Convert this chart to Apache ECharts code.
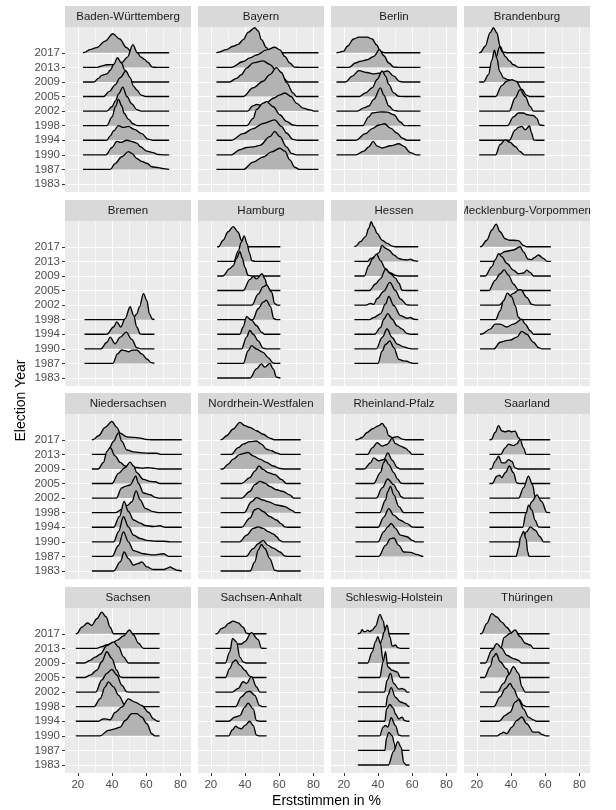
<!DOCTYPE html>
<html>
<head>
<meta charset="utf-8">
<script src="https://cdn.jsdelivr.net/npm/echarts@6/dist/echarts.min.js"></script>
<style>
  html, body { margin: 0; padding: 0; background: #fff; }
  #chart { width: 616px; height: 810px; }
</style>
</head>
<body>
<div id="chart"></div>
<script>
// election years, bottom to top
const years = ['1983', '1987', '1990', '1994', '1998', '2002', '2005', '2009', '2013', '2017']
const xTicks = [20, 40, 60, 80]
const xMinorTicks = [30, 50, 70]

const states = [
  'Baden-Württemberg', 'Bayern', 'Berlin', 'Brandenburg',
  'Bremen', 'Hamburg', 'Hessen', 'Mecklenburg-Vorpommern',
  'Niedersachsen', 'Nordrhein-Westfalen', 'Rheinland-Pfalz', 'Saarland',
  'Sachsen', 'Sachsen-Anhalt', 'Schleswig-Holstein', 'Thüringen'
]
// range of the density lines per state (Erststimmen in %)
const xRanges = [
  [23, 73.4], [23.3, 83], [15.7, 64.8], [21.4, 59.6],
  [23.9, 64.8], [23.7, 60.7], [26.2, 63.5], [21.9, 63.3],
  [28.2, 80.8], [25.7, 72.6], [26.8, 66.8], [27.4, 62.9],
  [18.8, 67.8], [22.7, 52.6], [28.2, 58.4], [21.9, 62.5]
]

// ridge outlines: [x in %, height in rows]
const bw = {
  '2017': [[24.5,0.05],[27,0.22],[31,0.35],[36,0.8],[40.5,1.31],[44.5,0.95],[48.5,0.35],[51.5,0.05],[55,0]],
  '2013': [[31,0],[33.5,0.08],[37,0.18],[42,0.2],[46,0.35],[49,0.7],[52.2,1.56],[54.8,1.0],[57,0.7],[59,0.55],[61,0.35],[63.5,0.02],[66,0]],
  '2009': [[29.5,0],[32,0.25],[34,0.45],[37,0.55],[39,0.8],[41,1.2],[43.2,1.66],[45.5,1.3],[47.5,0.8],[50,0.2],[52,0]],
  '2005': [[35,0],[38.5,0.35],[41.8,0.8],[44.8,1.3],[48.1,1.75],[50.6,1.3],[52.6,0.7],[54.5,0.45],[57,0.1],[60,0]],
  '2002': [[37,0],[40,0.3],[42,0.7],[44,1.2],[46.3,1.65],[48.7,1.0],[51.6,0.5],[54.5,0.1],[57,0]],
  '1998': [[37,0],[40,0.6],[42,1.3],[43.8,1.8],[45.7,1.35],[47.1,0.85],[49.6,0.45],[52.2,0.13],[55,0]],
  '1994': [[37,0],[39,0.3],[41,0.65],[43.8,1.0],[46.7,0.88],[49.6,0.95],[53,0.75],[57.4,0.45],[61,0.08],[64,0]],
  '1990': [[36.5,0],[40,0.5],[42.8,0.92],[45,0.85],[48.7,1.0],[52,0.9],[54.5,0.8],[56.5,0.57],[60.4,0.25],[64,0.15],[67,0.02],[70,0]],
  '1987': [[39,0],[41.8,0.4],[45.7,0.87],[49.6,1.22],[51.6,1.1],[54.5,0.75],[57.4,0.55],[60.4,0.42],[63.3,0.18],[67.2,0.12],[70,0.05]]
}
const by = {
  '2017': [[24.5,0.05],[29,0.22],[33,0.45],[36,0.58],[39,0.9],[41.8,1.4],[45.7,1.72],[47.7,1.5],[49.6,0.9],[52.6,0.35],[55,0]],
  '2013': [[32,0],[38.9,0.4],[42.8,0.65],[46.7,0.85],[52.6,1.2],[57.4,1.38],[60.4,1.2],[63.3,0.75],[66.2,0.3],[69,0.02],[72,0]],
  '2009': [[31,0],[35,0.25],[37.9,0.5],[40.9,0.95],[44.8,1.31],[50.6,1.45],[54.5,1.2],[58.4,0.75],[62.3,0.28],[65.2,0]],
  '2005': [[39,0],[44.8,0.6],[50.6,1.05],[54.5,1.5],[58.4,1.98],[61.3,1.65],[64.3,0.95],[68.1,0.25],[70,0]],
  '2002': [[41.5,0],[44.5,0.35],[46.7,0.45],[49.6,0.4],[52.6,0.6],[57,0.9],[60,1.1],[63.3,1.24],[67,1.0],[70,0.55],[74,0.2],[78,0.08],[81,0]],
  '1998': [[41,0],[44.8,0.5],[46.7,1.1],[50.6,1.55],[52.6,1.65],[56.5,1.3],[60.4,0.75],[64.3,0.3],[68,0.05],[71,0]],
  '1994': [[32,0],[38.9,0.45],[44.8,0.8],[50.6,1.15],[57.4,1.4],[61.3,0.95],[64.3,0.5],[68,0.06],[71,0]],
  '1990': [[32,0],[37,0.35],[41,0.5],[45,0.55],[48.7,0.65],[54.5,1.25],[57.4,1.6],[60.4,1.25],[64.3,0.55],[67.2,0.1],[70,0]],
  '1987': [[39,0],[44.8,0.5],[50.6,0.85],[55.5,1.2],[60.4,1.45],[63.3,1.25],[66.2,0.65],[69,0.15],[72,0]]
}
const be = {
  '2017': [[16.5,0.02],[20,0.12],[22,0.45],[25.8,0.95],[28.8,1.08],[33.6,1.08],[36.6,0.95],[39.1,0.55],[41.4,0.1],[44,0]],
  '2013': [[23,0],[26.8,0.3],[29.7,0.42],[33.6,0.52],[37.5,0.75],[40.9,1.22],[43.4,0.8],[46.3,0.3],[49.2,0.02],[52,0]],
  '2009': [[21,0],[24.9,0.4],[28.8,0.78],[33.6,0.65],[37,0.55],[40.5,0.6],[45.7,0.75],[49.2,0.4],[52.7,0.03],[55,0]],
  '2005': [[29,0],[32.7,0.25],[36.6,0.6],[39.5,1.17],[42.4,1.75],[44.4,1.4],[46.3,0.83],[49.2,0.25],[52,0.02],[55,0]],
  '2002': [[28,0],[31.7,0.22],[34.6,0.35],[37.5,0.8],[41.4,1.59],[43.4,1.1],[46.3,0.35],[49.2,0.05],[52,0]],
  '1998': [[31,0],[34.6,0.6],[36.6,0.87],[41.4,0.95],[45.3,0.93],[49.2,0.75],[53.1,0.25],[55.5,0]],
  '1994': [[27,0],[32.7,0.45],[36.6,0.8],[40.5,1.05],[43.8,1.13],[47.3,0.83],[51.2,0.48],[54.1,0.15],[57,0]],
  '1990': [[27,0],[31.7,0.25],[34.6,0.55],[37.2,0.92],[39.5,0.6],[42.4,0.47],[47.3,0.62],[52.2,0.76],[55.1,0.58],[59,0.15],[62.5,0]]
}
const bb = {
  '2017': [[22,0.02],[24.9,0.45],[27.8,1.38],[29.7,1.72],[31.7,1.38],[33.6,0.45],[35.6,0.04],[38,0]],
  '2013': [[29,0],[31,0.6],[33.3,1.4],[35,1.05],[36.6,0.75],[39,0.45],[41.4,0.18],[44.4,0]],
  '2009': [[24,0],[26.8,0.5],[28.8,1.5],[30.3,2.18],[31.8,1.6],[33.3,0.73],[35.6,0.28],[38.5,0.15],[40.5,0]],
  '2005': [[31,0],[34.6,0.75],[37.5,1.05],[40.5,1.15],[43,1.05],[46.3,0.5],[49,0.1],[51,0]],
  '2002': [[39,0],[42.4,0.9],[45.3,1.47],[48.3,1.0],[51.2,0.32],[53.1,0]],
  '1998': [[38,0],[41.4,0.6],[44.4,0.87],[47.3,0.87],[49.2,0.77],[51,0.72],[53.1,0.7],[55.1,0.5],[56.8,0.05]],
  '1994': [[39,0],[42.4,0.7],[44.5,0.9],[46.3,0.95],[48.3,0.72],[50.8,0.98],[52,0.5],[53.3,0.02],[55,0]],
  '1990': [[31,0],[33.6,0.7],[36.6,1.03],[39.5,0.85],[42.4,0.57],[45.3,0.23],[47.7,0]]
}
const hb = {
  '1998': [[50,0],[53,0.2],[54.5,0.4],[56.1,0.9],[58.4,1.79],[60.4,1.3],[61.9,0.4],[63.5,0.05]],
  '1994': [[37,0],[40.9,0.5],[42.8,0.85],[45.1,0.5],[47.7,1.07],[50.6,1.89],[52.6,1.3],[54.5,0.5],[56.5,0.02],[58,0]],
  '1990': [[33.5,0],[37,0.45],[38.9,0.8],[41.8,0.35],[44.8,0.8],[48.3,1.15],[51.6,0.65],[54.5,0.08],[57,0]],
  '1987': [[40.5,0],[43.2,0.65],[45.7,0.92],[47.7,0.88],[49.6,0.8],[51.6,0.9],[54.5,0.92],[57.4,0.65],[60.4,0.3],[63,0.05]]
}
const hh = {
  '2017': [[24.5,0],[27.2,0.45],[30.1,1.03],[33.1,1.38],[36,1.0],[37.9,0.45],[40,0]],
  '2013': [[33.5,0],[36,0.7],[37.8,1.3],[39.5,1.75],[41.3,1.2],[42.5,0.6],[44,0.05],[46,0]],
  '2009': [[27,0],[31.1,0.5],[33.1,0.7],[35,1.2],[37,1.66],[38.5,1.2],[39.9,0.6],[41.8,0.05],[44,0]],
  '2005': [[39,0],[42.8,0.75],[44.8,0.95],[46.7,0.8],[50,1.15],[51.6,0.8],[53,0.3],[54.5,0.02],[57,0]],
  '2002': [[44,0],[47.7,0.75],[50.6,1.25],[52.6,1.38],[55.5,0.9],[57.4,0.1],[59,0]],
  '1998': [[44.5,0],[47.7,0.75],[50.6,1.2],[52.6,1.33],[54.9,0.9],[56.8,0.08],[58.5,0]],
  '1994': [[37,0],[38.9,0.5],[40.9,1.2],[43.8,0.97],[46.7,0.6],[49.6,0.15],[51.6,0]],
  '1990': [[38,0],[40.9,0.8],[42.8,1.26],[44.8,1.0],[47.7,0.55],[50.6,0.05],[52,0]],
  '1987': [[39,0],[41.8,0.87],[43.8,1.22],[46.7,0.99],[50.6,0.76],[53.5,0.4],[56.5,0.02],[58,0]],
  '1983': [[43,0],[46.7,0.62],[49.6,0.97],[51.6,0.74],[54.5,1.0],[56.5,0.62],[58.4,0.05]]
}
const he = {
  '2017': [[27,0.05],[29.7,0.35],[32.7,0.7],[34.6,1.27],[36,1.72],[37.5,1.38],[39.5,0.92],[42.4,0.45],[45.3,0.23],[48.3,0.05],[50,0]],
  '2013': [[34,0],[35.6,0.2],[38,0.3],[40.5,0.6],[42.4,1.1],[44.4,0.9],[46.3,0.78],[49.2,0.45],[52.2,0.2],[55,0.12],[57,0.1],[59,0.15],[61,0.05]],
  '2009': [[32,0],[34.6,0.7],[36.6,1.15],[39.1,1.5],[41.4,1.05],[44.4,0.5],[47.3,0.2],[50,0.05],[52,0]],
  '2005': [[35,0],[38.5,0.45],[41.4,0.8],[44.4,1.45],[47.3,1.15],[50.2,0.85],[52.2,0.5],[54.1,0.02],[56,0]],
  '2002': [[33,0],[35.6,0.12],[37.5,0.05],[39.5,0.45],[43.4,0.95],[46.9,1.56],[50.2,1.0],[53.1,0.42],[57,0.02],[59,0]],
  '1998': [[35,0],[37.5,0.15],[41.4,0.4],[44.4,1.08],[46.3,1.59],[49.2,0.97],[53.1,0.28],[57,0.1],[59,0.15],[61,0.03]],
  '1994': [[38,0],[41.4,0.45],[43.4,1.03],[45.7,1.42],[48.3,1.03],[51.2,0.57],[54.1,0.35],[57,0.05],[59,0]],
  '1990': [[39,0],[42.4,0.78],[45.3,1.36],[48.3,0.78],[51.2,0.32],[55.1,0.13],[58,0.03],[60,0]],
  '1987': [[40,0],[42.4,0.85],[44.4,1.3],[46.9,1.54],[49.2,1.08],[52.2,0.28],[55,0.17],[57,0.15],[59,0.05],[61,0]]
}
const mv = {
  '2017': [[22.5,0.02],[25.8,0.45],[28.8,1.15],[31.3,1.56],[33.6,1.03],[36.6,0.55],[39,0.45],[41.4,0.45],[44.4,0.42],[47.3,0.1],[49,0]],
  '2013': [[30,0],[33.6,0.5],[36.6,0.68],[41.4,0.78],[45.3,1.0],[47.3,0.65],[50,0.15],[52,0.12],[53.5,0.25],[56.1,0.44],[59,0.2],[61,0]],
  '2009': [[25,0],[28.8,0.64],[30.7,1.1],[32.7,1.52],[34.6,1.33],[37.5,0.87],[41.4,0.4],[44.4,0.15],[47.3,0.2],[49.2,0.4],[51.2,0.25],[53.1,0]],
  '2005': [[27,0],[30.7,0.7],[33.6,1.15],[36,1.42],[38.5,1.05],[41.4,0.45],[44.4,0.04],[46,0]],
  '2002': [[33,0],[37,0.4],[41.4,0.8],[44.4,1.03],[45.7,1.05],[49.2,0.53],[52.2,0.05],[54,0]],
  '1998': [[31,0],[33.6,0.6],[35.6,1.3],[37.9,1.82],[40.5,1.55],[42.4,0.97],[44.4,0.15],[46,0]],
  '1994': [[23,0.02],[27.8,0.35],[30.7,0.7],[33.6,0.7],[37.5,0.5],[41.4,0.7],[46.3,1.03],[48.3,0.7],[51.2,0.25],[53.1,0]],
  '1990': [[30,0],[33.6,0.45],[36.6,0.55],[39.5,0.6],[43.4,0.8],[46.3,1.2],[49.2,1.0],[53.1,0.45],[56.1,0.08],[58,0]]
}
const ni = {
  '2017': [[29,0.02],[32.1,0.28],[36,0.85],[39.9,1.26],[42.8,0.85],[44.8,0.45],[48.7,0.2],[52.6,0.17],[56.5,0.12],[60.4,0.02],[63,0]],
  '2013': [[37,0],[40.9,0.9],[43.8,1.47],[45.7,0.9],[48.7,0.3],[52.6,0.17],[58.4,0.1],[62,0.08],[66.2,0.08],[69,0]],
  '2009': [[32,0],[35,0.45],[37,1.2],[38.9,1.47],[41.8,0.9],[44.8,0.45],[47.7,0.2],[52,0.1],[54.5,0.1],[58,0.05],[60.4,0.09],[64.2,0.05],[67,0]],
  '2005': [[40,0],[43.8,0.7],[47.7,1.1],[50.6,1.47],[52.6,1.2],[54.5,0.75],[58.4,0.28],[62.3,0.15],[65.2,0.12],[68,0]],
  '2002': [[42.5,0],[45.7,0.7],[47.7,0.8],[50.6,0.9],[53.9,1.5],[55.5,1.0],[58.4,0.35],[62.3,0.23],[65.2,0.05],[67,0]],
  '1998': [[42,0],[46.7,0.3],[49,0.5],[51.6,0.75],[54.1,1.5],[56.5,0.88],[59.4,0.3],[64.2,0.07],[67,0]],
  '1994': [[41,0],[44.4,0.75],[47.1,1.77],[49.6,1.08],[52.6,0.5],[56.5,0.28],[59.4,0.12],[64.2,0.05],[68.1,0.1],[71,0]],
  '1990': [[41,0],[43.8,0.7],[46.7,1.72],[49.6,1.03],[52.6,0.45],[56.5,0.23],[60.4,0.1],[66,0.04],[70,0.04],[74,0]],
  '1987': [[40,0],[43.8,0.75],[46.7,1.68],[49.6,1.0],[52.6,0.4],[58.4,0.18],[64.2,0.1],[70.1,0.18],[73,0]],
  '1983': [[41,0],[44.8,0.62],[47.1,1.3],[49.6,0.85],[52.6,0.4],[55,0.5],[57.4,0.62],[60.4,0.28],[64.2,0.1],[70.1,0.1],[72.5,0.2],[74,0.28],[76,0.15],[78,0.05]]
}
const nw = {
  '2017': [[26.5,0.03],[29.2,0.28],[33.1,0.74],[37,1.2],[39.9,0.97],[42.8,0.85],[46.7,0.62],[50.6,0.38],[54.5,0.12],[57,0]],
  '2013': [[32,0],[36,0.46],[38.9,0.7],[42.8,0.87],[46.7,0.92],[49.6,0.7],[52.6,0.35],[55.5,0.25],[58.4,0.1],[61,0]],
  '2009': [[27,0],[30.1,0.32],[33.1,0.67],[37,1.0],[41.8,1.13],[44.8,0.9],[48.7,0.67],[52.6,0.45],[56.5,0.2],[60.4,0.03],[63,0]],
  '2005': [[38,0],[42.8,0.4],[45.7,0.85],[48.1,1.2],[50.6,0.97],[53.5,0.75],[57.4,0.62],[61.3,0.28],[64.2,0]],
  '2002': [[38,0],[42.8,0.45],[45.7,0.92],[48.7,1.15],[51.6,1.03],[54.5,0.8],[58.4,0.57],[62.3,0.45],[66.2,0.22],[68.5,0]],
  '1998': [[39.5,0],[43.8,0.75],[46.7,1.03],[50.6,0.87],[53.5,0.76],[58.4,0.53],[63.3,0.42],[67.2,0.18],[69.5,0]],
  '1994': [[38,0],[42.8,0.62],[45.7,1.2],[47.7,1.3],[50.6,1.08],[54.5,0.74],[58.4,0.5],[61,0.25],[63.3,0.03],[65,0]],
  '1990': [[37,0],[40.9,0.46],[44.8,0.92],[47.7,1.03],[50.6,0.92],[53.5,0.7],[56.5,0.55],[58.5,0.35],[60.4,0.1],[62,0]],
  '1987': [[40.5,0],[44.8,0.53],[47.7,0.87],[50.6,1.1],[53.5,0.76],[56.5,0.57],[60.4,0.3],[63.5,0.02],[65,0]],
  '1983': [[43,0],[45.7,0.62],[47.7,1.42],[49.6,1.82],[51.6,1.54],[54.5,0.85],[57.4,0.05],[59,0]]
}
const rp = {
  '2017': [[28,0.02],[30.7,0.16],[33.6,0.5],[36.6,0.74],[40.5,0.97],[42.4,1.13],[44.4,0.85],[46.3,0.28],[48.5,0.15],[51.2,0.22],[54.1,0.05],[56,0]],
  '2013': [[34,0],[36.6,0.45],[39.5,0.8],[42.4,0.57],[45.3,0.68],[48.3,1.1],[50.2,0.74],[53.1,0.57],[56.1,0.42],[58,0.22],[60,0]],
  '2009': [[32,0],[35.6,0.42],[37.5,0.76],[40.5,0.55],[43.4,0.65],[45.7,1.1],[48.3,0.6],[51.2,0.1],[53,0]],
  '2005': [[37.5,0],[41.4,0.75],[43.4,1.45],[44.4,1.65],[46.3,1.3],[49.2,0.75],[51.5,0.3],[53.5,0.02],[55,0]],
  '2002': [[39,0],[42.4,0.7],[45.7,1.31],[49.2,0.92],[51.5,0.5],[53.5,0.1],[55,0]],
  '1998': [[41,0],[44.4,0.87],[45.7,1.45],[47.3,1.8],[49.2,1.22],[52.2,0.42],[55.1,0]],
  '1994': [[40,0],[43.4,0.7],[46.3,1.28],[49.2,0.83],[53.1,0.48],[57,0.25],[60,0.02],[62,0]],
  '1990': [[40,0],[43.4,0.7],[45.7,1.03],[47.7,1.26],[50.2,0.92],[53.1,0.46],[57,0.35],[60,0.1],[62,0]],
  '1987': [[40.5,0],[44.4,0.76],[47.3,1.22],[49.2,1.26],[52.2,0.76],[55.1,0.3],[59,0.28],[62.9,0.12],[66.5,0]]
}
const sl = {
  '2017': [[28.5,0.02],[30.7,0.5],[32.7,0.97],[34.6,0.62],[36.6,0.55],[38.5,0.62],[40.5,0.55],[42.4,0.6],[44.4,0.15],[45.5,0]],
  '2013': [[34,0],[36.6,0.45],[38.5,0.7],[41.4,0.6],[43.4,0.72],[45.3,1.03],[47.3,0.45],[48.8,0]],
  '2009': [[28.5,0],[30.7,0.52],[32.7,0.87],[34.6,0.42],[36.6,0.42],[38.5,0.64],[40.5,0.52],[42.4,0.07],[44,0]],
  '2005': [[29,0],[31.7,0.5],[33.3,0.57],[34.6,0.4],[36.6,0.74],[39.1,1.2],[41.4,0.74],[43.4,0.04],[45,0]],
  '2002': [[44.5,0],[47.3,0.7],[50.2,1.5],[52.6,0.92],[54.1,0.1],[55.5,0]],
  '1998': [[49.5,0],[52.2,0.75],[55.1,1.22],[58,0.75],[60.9,0.02]],
  '1994': [[46.8,0],[48.8,0.95],[50.2,1.52],[52.2,1.17],[54.1,0.48],[56.1,0.02],[58,0]],
  '1990': [[46,0],[49.2,0.7],[51.2,1.03],[54.1,0.8],[57,0.35],[59,0]],
  '1987': [[43,0],[44.5,0.6],[45.5,1.3],[47.3,1.72],[48.8,1.2],[49.8,0.3],[50.5,0]]
}
const sn = {
  '2017': [[19.5,0.02],[22.3,0.45],[25.7,0.74],[28.2,0.58],[31.1,1.03],[34,1.49],[36.6,1.15],[38.9,0.45],[40.9,0]],
  '2013': [[31,0],[34,0.12],[36.6,0.23],[39.9,0.3],[42.8,0.55],[46.7,0.85],[50.2,1.26],[52.6,0.92],[55.5,0.35],[58.4,0]],
  '2009': [[24,0],[27.2,0.18],[30.1,0.4],[33.1,0.6],[37,1.2],[40.9,1.45],[43.8,1.1],[46.7,0.42],[49.6,0]],
  '2005': [[24,0],[27.2,0.16],[31.1,0.5],[34,1.08],[37,1.77],[39.9,1.3],[42.8,0.5],[44.8,0.04],[46.5,0]],
  '2002': [[30.5,0],[34,0.83],[37,1.29],[39.9,1.56],[42.8,1.17],[45.7,0.48],[48.7,0.02],[50,0]],
  '1998': [[29.5,0],[33.1,0.55],[36,1.36],[37.9,1.7],[40.9,1.36],[43.8,0.78],[47.7,0.09],[49.5,0]],
  '1994': [[32,0],[34.5,0.15],[36,0.16],[38.9,0.1],[41.8,0.6],[45.7,0.97],[49.6,1.54],[53.5,1.31],[57.4,1.08],[61.3,0.62],[64.2,0.16],[66.5,0]],
  '1990': [[33,0],[37.9,0.37],[41.8,0.48],[44.8,0.6],[47.7,1.05],[51.6,1.52],[54.5,1.52],[57.4,1.29],[60.4,0.83],[63.3,0.14],[65,0]]
}
const st = {
  '2017': [[23.5,0],[26.2,0.35],[28.2,0.46],[30.1,0.7],[33.1,0.87],[36,0.75],[38.9,0.45],[40.9,0.04],[42.5,0]],
  '2013': [[33,0],[36,0.3],[37.9,0.3],[39.9,0.46],[43.8,1.08],[47.7,0.6],[49.6,0.02],[51,0]],
  '2009': [[28.5,0],[31.1,0.76],[32.7,1.68],[35,1.45],[37,0.4],[38.9,0.07],[40.5,0]],
  '2005': [[28.5,0],[31.1,0.62],[33.1,1.08],[34.6,1.2],[37,0.85],[39.9,0.5],[42.8,0.09],[44.5,0]],
  '2002': [[32.5,0],[36,0.25],[38.9,0.71],[40.9,0.6],[43.8,1.06],[46.7,0.37],[48.7,0]],
  '1998': [[34.5,0],[37.9,0.67],[40.9,1.0],[42.8,1.06],[45.7,0.78],[48.5,0.09],[50,0]],
  '1994': [[30.5,0],[34,0.28],[37,0.39],[39.9,0.97],[41.8,1.24],[44.8,0.85],[46.7,0.05],[48.5,0]],
  '1990': [[30.5,0],[32.5,0.4],[34.6,0.67],[36,0.55],[37.9,0.48],[40,0.72],[42.8,1.0],[44.8,0.7],[46.7,0.05],[48,0]]
}
const sh = {
  '2017': [[29.5,0.05],[30.7,0.28],[31.7,0.15],[32.7,0.15],[34,0.25],[35,0.15],[36.6,0.25],[38.5,0.5],[41.1,1.33],[43,0.9],[44.4,0.05],[46,0]],
  '2013': [[40.5,0],[42.3,0.6],[43.4,1.1],[45.3,1.6],[46.9,0.8],[48.3,0.15],[50.2,0.23],[51.6,0.05],[53,0]],
  '2009': [[34,0],[36.6,0.76],[38.5,1.45],[39.9,1.8],[41.4,1.33],[43,0.15],[44.5,0]],
  '2005': [[41,0],[43,1.08],[44.4,1.77],[45.7,0.74],[48.3,0.5],[51.2,0.39],[53.1,0]],
  '2002': [[43.8,0],[45.3,0.8],[47.3,1.29],[49.2,0.6],[52.2,0.2],[54,0.25],[55.5,0.18],[57,0]],
  '1998': [[44.5,0],[45.7,0.78],[47.7,1.31],[50.2,0.65],[53.1,0.32],[56.1,0.2],[57.5,0.05]],
  '1994': [[44,0],[45,0.85],[46.9,1.15],[49,0.9],[50.2,0.5],[52.2,0.15],[54.1,0.28],[55.5,0.05],[57,0]],
  '1990': [[41,0],[43,0.6],[44.4,0.72],[45.7,0.6],[47.7,1.24],[50.2,0.7],[52.2,0.05],[53.5,0]],
  '1987': [[44,0],[45,0.85],[46.3,1.24],[48.3,1.0],[49.5,0.5],[50.3,0]],
  '1983': [[46,0],[49.2,0.95],[51.6,1.6],[53.5,1.2],[55.1,0.15],[56.5,0]]
}
const th = {
  '2017': [[22.8,0.02],[25.8,0.7],[28.8,1.38],[31.7,1.15],[34.6,0.8],[37.5,0.45],[40.5,0.05],[42,0]],
  '2013': [[34,0],[36,0.75],[39.5,1.03],[42.4,1.26],[45.3,0.8],[48.3,0.35],[51.2,0.23],[53.1,0]],
  '2009': [[25,0],[28.8,0.87],[31.7,1.33],[34.6,1.0],[37.5,0.53],[41.4,0.3],[44.4,0.18],[46,0]],
  '2005': [[24.5,0],[27.8,0.75],[29.7,1.43],[31.3,1.65],[33.6,1.08],[37.5,0.6],[39.5,0.05],[41,0]],
  '2002': [[32,0],[35.6,0.6],[38.5,1.17],[41.4,1.75],[44.4,1.29],[46.3,0.37],[48.3,0]],
  '1998': [[30,0],[33.6,0.67],[36.6,1.24],[39.5,1.59],[41.4,1.24],[44.4,0.55],[47.3,0.09],[49,0]],
  '1994': [[33,0],[36.6,0.4],[39.5,0.62],[42.4,1.31],[44.4,1.47],[47.3,0.85],[50.2,0.28],[53.1,0.09],[55,0]],
  '1990': [[32,0],[34,0.15],[35.6,0.25],[37.5,0.15],[40.5,0.6],[43.4,1.06],[46.3,1.29],[49.2,0.83],[53.1,0.25],[56.1,0.25],[58,0.1],[60.5,0]]
}
const ridges = [bw, by, be, bb, hb, hh, he, mv, ni, nw, rp, sl, sn, st, sh, th]

const font = "'Liberation Sans', Arial, Helvetica, sans-serif"
const colLeft = [65, 198, 331, 464]
const rowTop = [27, 221, 414, 608]
const panelW = 126
const panelH = 165

const myChart = echarts.init(document.getElementById('chart'), null, {renderer: 'canvas'})

const grid = []
const xAxis = []
const yAxis = []
const series = []
const graphic = []

let z = 3
states.forEach((name, i) => {
  const col = i % 4
  const row = Math.floor(i / 4)
  const left = colLeft[col]
  const top = rowTop[row]
  grid.push({left: left, top: top, width: panelW, height: panelH, show: true, backgroundColor: '#ebebeb', borderWidth: 0})

  //主刻度
  xAxis.push({
    type: 'value', gridIndex: i, min: 12.5, max: 86.2,
    axisLine: {show: false},
    axisTick: {show: row === 3, customValues: xTicks, length: 3, lineStyle: {color: '#333333', width: 1}},
    axisLabel: {show: row === 3, customValues: xTicks, color: '#4d4d4d', fontSize: 11.5, fontFamily: font, margin: 6},
    splitLine: {show: true, lineStyle: {color: '#ffffff', width: 1.1}}
  })
  //次刻度
  xAxis.push({
    type: 'value', gridIndex: i, min: 12.5, max: 86.2,
    axisLine: {show: false},
    axisTick: {show: false, customValues: xMinorTicks},
    axisLabel: {show: false, customValues: xMinorTicks},
    splitLine: {show: true, lineStyle: {color: '#ffffff', width: 0.55}}
  })
  yAxis.push({
    type: 'value', gridIndex: i, min: 0.45, max: 11.77,
    axisLine: {show: false},
    axisTick: {show: col === 0, customValues: [1, 2, 3, 4, 5, 6, 7, 8, 9, 10], length: 3, lineStyle: {color: '#333333', width: 1}},
    axisLabel: {
      show: col === 0, customValues: [1, 2, 3, 4, 5, 6, 7, 8, 9, 10],
      color: '#4d4d4d', fontSize: 11.5, fontFamily: font, margin: 5,
      formatter: (v) => years[Math.round(v) - 1]
    },
    splitLine: {show: true, lineStyle: {color: '#ffffff', width: 1.1}}
  })

  // strip
  graphic.push({type: 'rect', shape: {x: left, y: top - 21, width: panelW, height: 21}, style: {fill: '#d9d9d9'}, z: 1})
  graphic.push({
    type: 'text', x: left + panelW / 2, y: top - 10.5, z: 2,
    style: {text: name, fill: '#1a1a1a', fontSize: 11.5, fontFamily: font, align: 'center', verticalAlign: 'middle'}
  })

  // ridges, top row first so lower ridges cover upper ones
  const xr = xRanges[i]
  for (let k = years.length - 1; k >= 0; k--) {
    const pts = ridges[i][years[k]]
    if (!pts) continue
    const lvl = k + 1
    const data = [[xr[0], lvl]]
    pts.forEach(p => {
      if (p[0] > xr[0] && p[0] < xr[1]) data.push([p[0], lvl + p[1]])
    })
    data.push([xr[1], lvl])
    series.push({
      name: name + ' ' + years[k],
      type: 'line', xAxisIndex: 2 * i, yAxisIndex: i, data: data,
      smooth: 0.35, smoothMonotone: 'x', symbol: 'none', silent: true, z: z++,
      lineStyle: {color: '#000000', width: 1.35},
      areaStyle: {color: '#b3b3b3', opacity: 1, origin: lvl}
    })
  }
})

// clip overlong strip text
graphic.push({type: 'rect', shape: {x: colLeft[3] - 7, y: rowTop[1] - 22, width: 7, height: 22}, style: {fill: '#ffffff'}, z: 5})
graphic.push({type: 'rect', shape: {x: colLeft[3] + panelW, y: rowTop[1] - 22, width: 30, height: 22}, style: {fill: '#ffffff'}, z: 5})

// axis titles
graphic.push({
  type: 'text', x: 326.5, y: 801, z: 2,
  style: {text: 'Erststimmen in %', fill: '#000000', fontSize: 14, fontFamily: font, align: 'center', verticalAlign: 'middle'}
})
graphic.push({
  type: 'text', x: 21.5, y: 400.5, rotation: Math.PI / 2, z: 2,
  style: {text: 'Election Year', fill: '#000000', fontSize: 14, fontFamily: font, align: 'center', verticalAlign: 'middle'}
})

const option = {
  animation: false,
  backgroundColor: '#ffffff',
  grid: grid,
  xAxis: xAxis,
  yAxis: yAxis,
  series: series,
  graphic: {elements: graphic}
}
option && myChart.setOption(option)
</script>
</body>
</html>
